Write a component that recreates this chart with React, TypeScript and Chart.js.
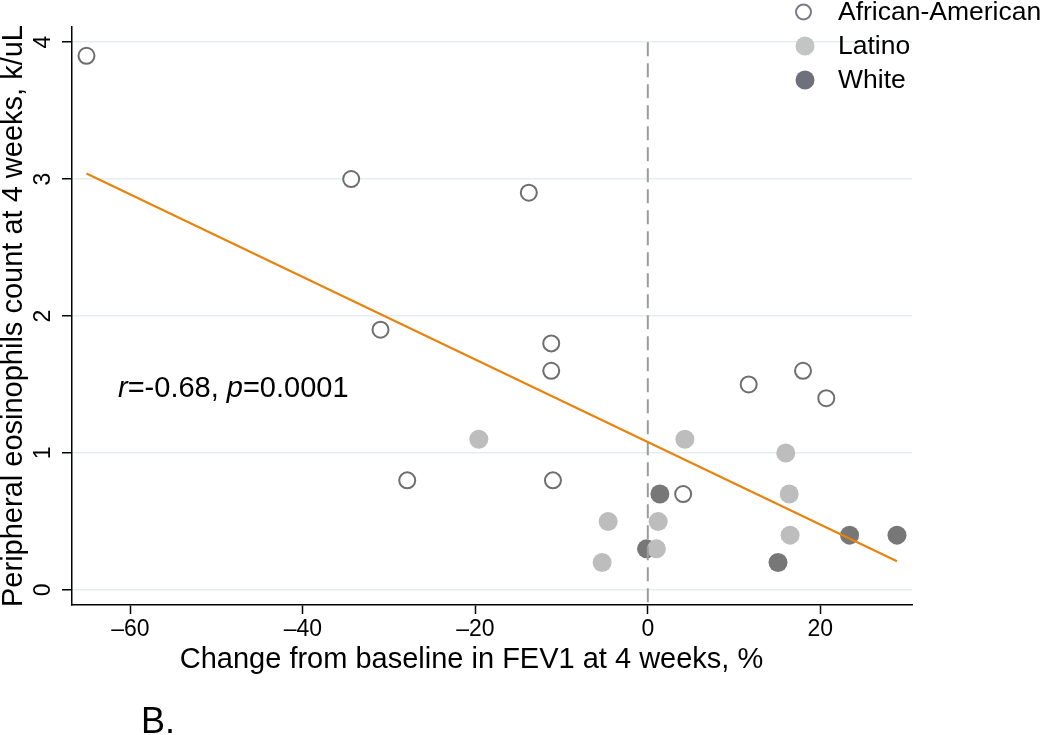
import React, { useEffect, useRef } from "react";
import { Chart, registerables } from "chart.js";

Chart.register(...registerables);

const FONT = "'Liberation Sans', Arial, Helvetica, sans-serif";

// Data
const africanAmericanX = [-65.1, -34.4, -13.8, -31.0, -11.2, -11.2, -27.9, -11.0, 4.1, 11.7, 18.0, 20.7];
const africanAmericanY = [3.9, 3.0, 2.9, 1.9, 1.8, 1.6, 0.8, 0.8, 0.7, 1.5, 1.6, 1.4];
const latinoX = [-19.6, 4.3, 16.0, 16.4, -4.6, 1.2, 1.0, 16.5, -5.3];
const latinoY = [1.1, 1.1, 1.0, 0.7, 0.5, 0.5, 0.3, 0.4, 0.2];
const whiteX = [1.4, -0.15, 15.1, 23.4, 28.9];
const whiteY = [0.7, 0.3, 0.2, 0.4, 0.4];
const fitX = [-65.1, 28.9];
const fitY = [3.04, 0.21];
const refLineX = [0, 0];
const refLineY = [-0.09, 4.0];
const xTicks = [-60, -40, -20, 0, 20];
const yTicks = [0, 1, 2, 3, 4];
const legendLabels = ["African-American", "Latino", "White"];
const xTitle = "Change from baseline in FEV1 at 4 weeks, %";
const yTitle = "Peripheral eosinophils count at 4 weeks, k/uL";
const statsText = { r: "-0.68", p: "0.0001" };
const panelLabel = "B.";

const toPoints = (xs: number[], ys: number[]) => xs.map((x, i) => ({ x, y: ys[i] }));

const overlayPlugin = {
  id: "overlayText",
  afterDraw(chart: any) {
    const ctx = chart.ctx as CanvasRenderingContext2D;
    ctx.save();
    // Legend
    const rowsY = [12, 46, 80];
    const symX = 805;
    const textX = 838;
    ctx.textBaseline = "middle";
    ctx.textAlign = "left";
    ctx.font = `26.5px ${FONT}`;
    legendLabels.forEach((label, i) => {
      const y = rowsY[i];
      ctx.beginPath();
      if (i === 0) {
        ctx.arc(symX - 1.5, y, 7.5, 0, Math.PI * 2);
        ctx.fillStyle = "#ffffff";
        ctx.fill();
        ctx.lineWidth = 2;
        ctx.strokeStyle = "#7a7b88";
        ctx.stroke();
      } else {
        ctx.arc(symX, y, 9.5, 0, Math.PI * 2);
        ctx.fillStyle = i === 1 ? "#c1c5c4" : "#6e717c";
        ctx.fill();
      }
      ctx.fillStyle = "#000000";
      ctx.fillText(label, textX, y + 1);
    });

    // X axis title (offset left of the plot centre as in the reference)
    ctx.font = `29px ${FONT}`;
    ctx.textAlign = "center";
    ctx.textBaseline = "alphabetic";
    ctx.fillText(xTitle, 471.5, 668);

    // Correlation annotation
    ctx.textAlign = "left";
    let x = 118;
    const by = 397;
    const parts: [string, boolean][] = [
      ["r", true],
      ["=" + statsText.r + ", ", false],
      ["p", true],
      ["=" + statsText.p, false],
    ];
    parts.forEach(([t, it]) => {
      ctx.font = `${it ? "italic " : ""}29px ${FONT}`;
      ctx.fillText(t, x, by);
      x += ctx.measureText(t).width;
    });

    // Panel label
    ctx.font = `36px ${FONT}`;
    ctx.fillText(panelLabel, 141, 733);
    ctx.restore();
  },
};

export default function App() {
  const canvasRef = useRef<HTMLCanvasElement | null>(null);

  useEffect(() => {
    const canvas = canvasRef.current;
    if (!canvas) return;
    Chart.defaults.font.family = FONT;
    const chart = new Chart(canvas, {
      type: "scatter",
      data: {
        datasets: [
          {
            type: "line",
            label: "Fit",
            data: toPoints(fitX, fitY),
            borderColor: "#e8830e",
            borderWidth: 2.2,
            pointRadius: 0,
            fill: false,
          } as any,
          {
            type: "line",
            label: "x=0",
            data: toPoints(refLineX, refLineY),
            borderColor: "#9c9c9c",
            borderWidth: 2,
            borderDash: [14, 7],
            pointRadius: 0,
            fill: false,
          } as any,
          {
            label: legendLabels[1],
            data: toPoints(latinoX, latinoY),
            backgroundColor: "#bdbdbd",
            borderWidth: 0,
            pointRadius: 9.5,
          },
          {
            label: legendLabels[2],
            data: toPoints(whiteX, whiteY),
            backgroundColor: "#777777",
            borderWidth: 0,
            pointRadius: 9.5,
          },
          {
            label: legendLabels[0],
            data: toPoints(africanAmericanX, africanAmericanY),
            backgroundColor: "#ffffff",
            borderColor: "#6e6e6e",
            borderWidth: 2,
            pointRadius: 8,
          },
        ],
      },
      options: {
        responsive: false,
        animation: false,
        devicePixelRatio: 1,
        layout: { padding: { top: 27, right: 138, left: 0, bottom: 0 } },
        plugins: {
          legend: { display: false },
          tooltip: { enabled: false },
        },
        scales: {
          x: {
            type: "linear",
            min: -66.78,
            max: 30.64,
            afterBuildTicks: (s: any) => {
              s.ticks = xTicks.map((v) => ({ value: v }));
            },
            afterFit: (s: any) => {
              s.height = 130;
            },
            border: { display: true, color: "#000000", width: 1.5 },
            grid: {
              drawOnChartArea: false,
              drawTicks: true,
              tickColor: "#000000",
              tickLength: 9,
              tickWidth: 1.5,
            },
            ticks: {
              minRotation: 0,
              maxRotation: 0,
              padding: 2,
              color: "#000000",
              font: { size: 23, family: FONT },
              callback: (v: any) => (Number(v) < 0 ? "\u2013" + Math.abs(Number(v)) : String(v)),
            },
            title: { display: false, text: xTitle },
          },
          y: {
            type: "linear",
            min: -0.11,
            max: 4.11,
            afterBuildTicks: (s: any) => {
              s.ticks = yTicks.map((v) => ({ value: v }));
            },
            afterFit: (s: any) => {
              s.width = 72;
            },
            border: { display: true, color: "#000000", width: 1.5 },
            grid: {
              color: "#e4eeef",
              lineWidth: 1.5,
              drawTicks: true,
              tickColor: "#000000",
              tickLength: 10,
              tickWidth: 1.5,
            },
            ticks: {
              minRotation: 90,
              maxRotation: 90,
              crossAlign: "center",
              padding: 12,
              color: "#000000",
              font: { size: 23, family: FONT },
            },
            title: {
              display: true,
              text: yTitle,
              color: "#000000",
              font: { size: 29, family: FONT },
              padding: { top: -3, bottom: 0 },
            },
          },
        },
      },
      plugins: [overlayPlugin],
    });
    return () => chart.destroy();
  }, []);

  return (
    <div style={{ position: "fixed", left: 0, top: 0, width: 1050, height: 735, background: "#ffffff" }}>
      <canvas ref={canvasRef} width={1050} height={735} />
    </div>
  );
}
